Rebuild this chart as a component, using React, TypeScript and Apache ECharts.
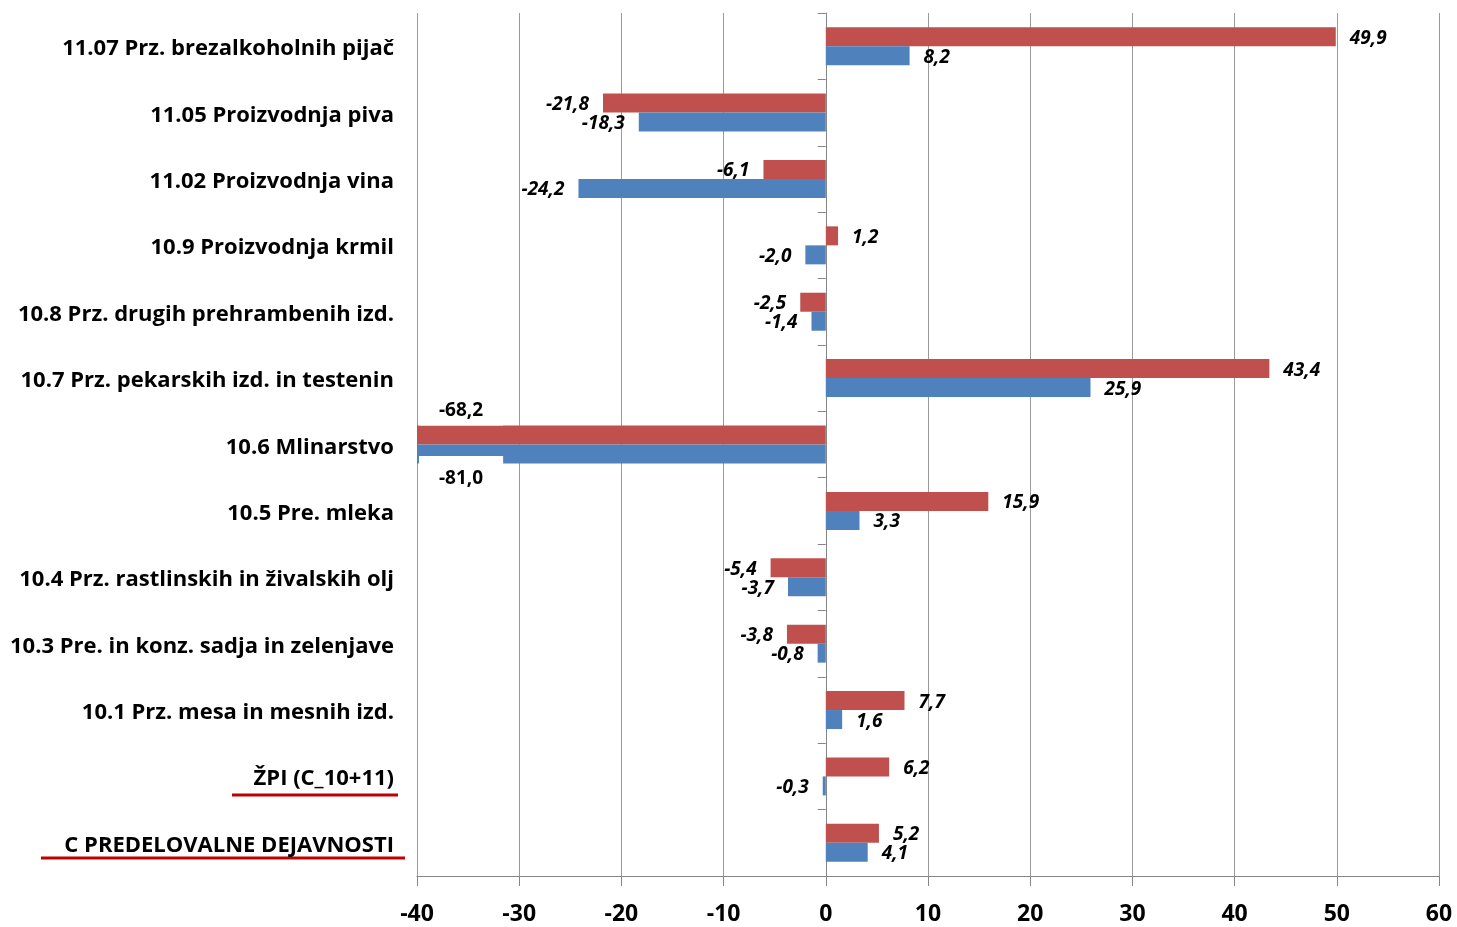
import React, { useEffect, useRef } from "react";
import * as echarts from "echarts";

const categories = [
  "11.07 Prz. brezalkoholnih pijač",
  "11.05 Proizvodnja piva",
  "11.02 Proizvodnja vina",
  "10.9 Proizvodnja krmil",
  "10.8 Prz. drugih prehrambenih izd.",
  "10.7 Prz. pekarskih izd. in testenin",
  "10.6 Mlinarstvo",
  "10.5 Pre. mleka",
  "10.4 Prz. rastlinskih in živalskih olj",
  "10.3 Pre. in konz. sadja in zelenjave",
  "10.1 Prz. mesa in mesnih izd.",
  "ŽPI (C_10+11)",
  "C PREDELOVALNE DEJAVNOSTI",
];
const redValues = [49.9, -21.8, -6.1, 1.2, -2.5, 43.4, -68.2, 15.9, -5.4, -3.8, 7.7, 6.2, 5.2];
const blueValues = [8.2, -18.3, -24.2, -2.0, -1.4, 25.9, -81.0, 3.3, -3.7, -0.8, 1.6, -0.3, 4.1];
const xMin = -40;
const xMax = 60;
const xInterval = 10;

const fmt = (v: number) => v.toFixed(1).replace(".", ",");

function makeData(values: number[], offsetY: number, pad: number[]) {
  return values.map((v) => {
    if (v < xMin) {
      return {
        value: v,
        label: {
          show: true,
          position: "insideLeft",
          distance: 2,
          offset: [0, offsetY],
          fontStyle: "normal",
          fontWeight: "bold",
          fontFamily: "Open Sans",
          fontSize: 19,
          backgroundColor: "#ffffff",
          padding: pad,
        },
      };
    }
    return {
      value: v,
      label: { position: v < 0 ? "left" : "right" },
    };
  });
}

export default function App() {
  const ref = useRef<HTMLDivElement>(null);
  useEffect(() => {
    if (!ref.current) return;
    const chart = echarts.init(ref.current, null, { renderer: "svg" });
    const labelBase = {
      show: true,
      distance: 14,
      color: "#000",
      fontFamily: "Open Sans",
      fontWeight: "bold",
      fontStyle: "italic",
      fontSize: 19,
      formatter: (p: any) => fmt(p.value),
    };
    chart.setOption({
      animation: false,
      textStyle: { fontFamily: "Open Sans" },
      grid: { left: 417, right: 18, top: 13, bottom: 51, containLabel: false },
      xAxis: {
        type: "value",
        min: xMin,
        max: xMax,
        interval: xInterval,
        axisLine: { show: true, lineStyle: { color: "#868686", width: 1 } },
        axisTick: { show: true, length: 10, lineStyle: { color: "#868686" } },
        splitLine: { show: true, lineStyle: { color: "#9a9a9a", width: 1 } },
        axisLabel: {
          margin: 24,
          color: "#000",
          fontFamily: "Open Sans",
          fontWeight: "bold",
          fontSize: 23,
        },
      },
      yAxis: [
        {
          type: "category",
          data: categories,
          inverse: true,
          position: "left",
          axisLine: { show: false, onZero: false },
          axisTick: { show: false },
          axisLabel: {
            margin: 23,
            color: "#000",
            fontFamily: "Open Sans",
            fontWeight: "bold",
            fontSize: 22,
          },
        },
        {
          type: "category",
          data: categories,
          inverse: true,
          position: "left",
          axisLine: { show: true, onZero: true, lineStyle: { color: "#868686" } },
          axisTick: { show: true, length: 8, lineStyle: { color: "#868686" } },
          axisLabel: { show: false },
        },
      ],
      series: [
        {
          type: "bar",
          name: "red",
          yAxisIndex: 0,
          data: makeData(redValues, -26, [10, 20, 4, 20]),
          barWidth: 19,
          barGap: "0%",
          itemStyle: { color: "#C0504D" },
          label: labelBase,
        },
        {
          type: "bar",
          name: "blue",
          yAxisIndex: 0,
          data: makeData(blueValues, 23, [11, 20, 12, 20]),
          barWidth: 19,
          barGap: "0%",
          itemStyle: { color: "#4F81BD" },
          label: labelBase,
        },
      ],
      graphic: [
        {
          type: "line",
          shape: { x1: 232, y1: 795, x2: 398, y2: 795 },
          style: { stroke: "#C00000", lineWidth: 3 },
        },
        {
          type: "line",
          shape: { x1: 41, y1: 858, x2: 405, y2: 858 },
          style: { stroke: "#C00000", lineWidth: 3 },
        },
      ],
    });
    return () => chart.dispose();
  }, []);
  return (
    <div
      ref={ref}
      style={{ position: "fixed", left: 0, top: 0, width: 1457, height: 927 }}
    />
  );
}
